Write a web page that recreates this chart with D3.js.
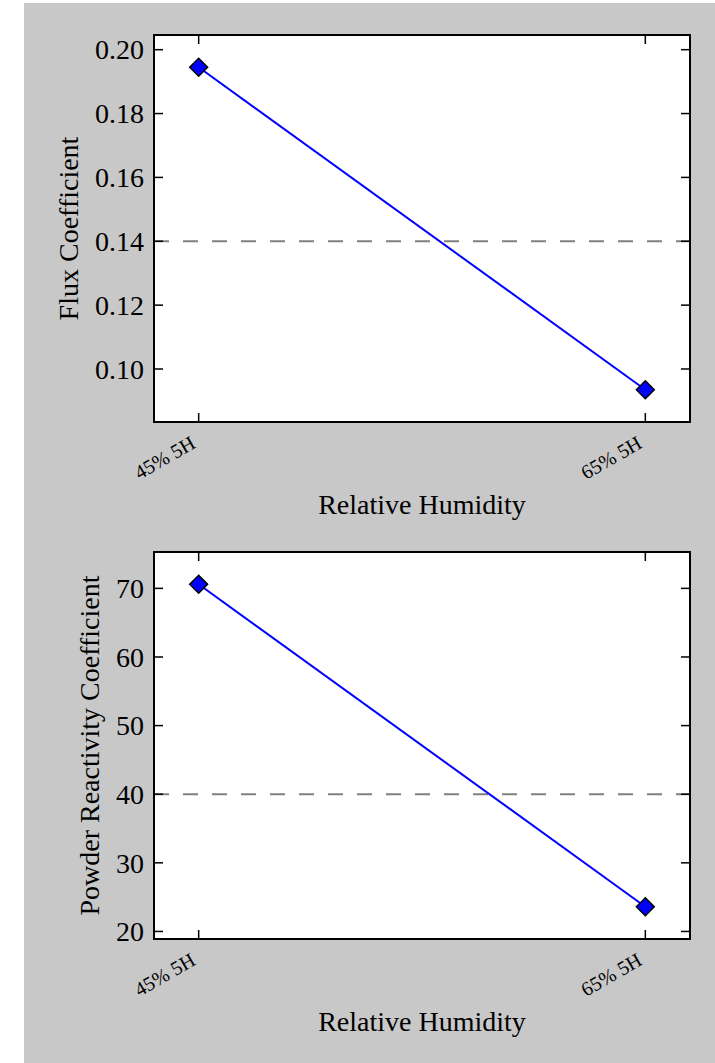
<!DOCTYPE html>
<html>
<head>
<meta charset="utf-8">
<script src="https://cdn.jsdelivr.net/npm/d3@7"></script>
<style>
  body { margin: 0; background: #ffffff; }
  svg { display: block; }
</style>
</head>
<body>
<svg id="chart"></svg>
<script>
// values
const categories = ["45% 5H", "65% 5H"];
const fluxValues = [0.1945, 0.0935];
const powderValues = [70.6, 23.6];
const fluxTicks = [0.10, 0.12, 0.14, 0.16, 0.18, 0.20];
const powderTicks = [20, 30, 40, 50, 60, 70];
const thresholds = [0.14, 40];

const width = 715, height = 1063;
const font = "'Liberation Serif', 'Times New Roman', serif";

const svg = d3.select("#chart")
    .attr("width", width)
    .attr("height", height);

// figure background
svg.append("rect")
    .attr("x", 24)
    .attr("y", 3)
    .attr("width", width - 24)
    .attr("height", height - 3)
    .attr("fill", "#c8c8c8");

const panels = [
    {values: fluxValues, ticks: fluxTicks, fmt: d3.format(".2f"), ylabel: "Flux Coefficient", top: 35, threshold: thresholds[0]},
    {values: powderValues, ticks: powderTicks, fmt: d3.format("d"), ylabel: "Powder Reactivity Coefficient", top: 552, threshold: thresholds[1]}
];

const left = 154, right = 690, panelH = 387;
const tickLen = 9;

panels.forEach(p => {
    const bottom = p.top + panelH;
    const g = svg.append("g");

    // matplotlib-like 10% margins on both axes
    const x = d3.scaleLinear()
        .domain([-0.1, categories.length - 1 + 0.1])
        .range([left, right]);
    const lo = d3.min(p.values), hi = d3.max(p.values);
    const pad = (hi - lo) * 0.1;
    const y = d3.scaleLinear()
        .domain([lo - pad, hi + pad])
        .range([bottom, p.top]);

    g.append("rect")
        .attr("x", left)
        .attr("y", p.top)
        .attr("width", right - left)
        .attr("height", panelH)
        .attr("fill", "#ffffff");

    // dashed reference line
    g.append("line")
        .attr("x1", left)
        .attr("x2", right)
        .attr("y1", y(p.threshold))
        .attr("y2", y(p.threshold))
        .attr("stroke", "#808080")
        .attr("stroke-width", 2)
        .attr("stroke-dasharray", "15,14");

    const line = d3.line()
        .x((d, i) => x(i))
        .y(d => y(d));

    g.append("path")
        .datum(p.values)
        .attr("d", line)
        .attr("fill", "none")
        .attr("stroke", "#0000ff")
        .attr("stroke-width", 2);

    g.selectAll(".marker")
        .data(p.values)
        .join("path")
        .attr("class", "marker")
        .attr("d", d3.symbol().type(d3.symbolSquare).size(160))
        .attr("transform", (d, i) => `translate(${x(i)},${y(d)}) rotate(45)`)
        .attr("fill", "#0000ff")
        .attr("stroke", "#000000")
        .attr("stroke-width", 1.5);

    // inward ticks on all four sides
    const ticksG = g.append("g")
        .attr("stroke", "#000000")
        .attr("stroke-width", 1.5);
    p.ticks.forEach(t => {
        ticksG.append("line").attr("x1", left).attr("x2", left + tickLen).attr("y1", y(t)).attr("y2", y(t));
        ticksG.append("line").attr("x1", right).attr("x2", right - tickLen).attr("y1", y(t)).attr("y2", y(t));
    });
    categories.forEach((c, i) => {
        ticksG.append("line").attr("x1", x(i)).attr("x2", x(i)).attr("y1", bottom).attr("y2", bottom - tickLen);
        ticksG.append("line").attr("x1", x(i)).attr("x2", x(i)).attr("y1", p.top).attr("y2", p.top + tickLen);
    });

    // spines
    g.append("rect")
        .attr("x", left)
        .attr("y", p.top)
        .attr("width", right - left)
        .attr("height", panelH)
        .attr("fill", "none")
        .attr("stroke", "#000000")
        .attr("stroke-width", 2);

    // y tick labels
    const ylabs = g.selectAll(".ylab")
        .data(p.ticks)
        .join("text")
        .attr("class", "ylab")
        .attr("x", left - 10)
        .attr("y", d => y(d))
        .attr("dy", "0.35em")
        .attr("text-anchor", "end")
        .attr("font-family", font)
        .attr("font-size", 28)
        .attr("fill", "#000")
        .text(d => p.fmt(d));

    // x tick labels, rotated
    g.selectAll(".xlab")
        .data(categories)
        .join("text")
        .attr("class", "xlab")
        .attr("transform", (d, i) => `translate(${x(i) - 2},${bottom + 25}) rotate(-30)`)
        .attr("text-anchor", "end")
        .attr("font-family", font)
        .attr("font-size", 20)
        .attr("fill", "#000")
        .text(d => d);

    g.append("text")
        .attr("x", (left + right) / 2)
        .attr("y", bottom + 92)
        .attr("text-anchor", "middle")
        .attr("font-family", font)
        .attr("font-size", 28)
        .attr("fill", "#000")
        .text("Relative Humidity");

    // y label sits a fixed gap left of the widest tick label, as matplotlib does
    const widest = d3.max(ylabs.nodes(), n => n.getComputedTextLength());
    g.append("text")
        .attr("transform", `translate(${left - 10 - widest - 17},${(p.top + bottom) / 2}) rotate(-90)`)
        .attr("text-anchor", "middle")
        .attr("font-family", font)
        .attr("font-size", 28)
        .attr("fill", "#000")
        .text(p.ylabel);
});
</script>
</body>
</html>
